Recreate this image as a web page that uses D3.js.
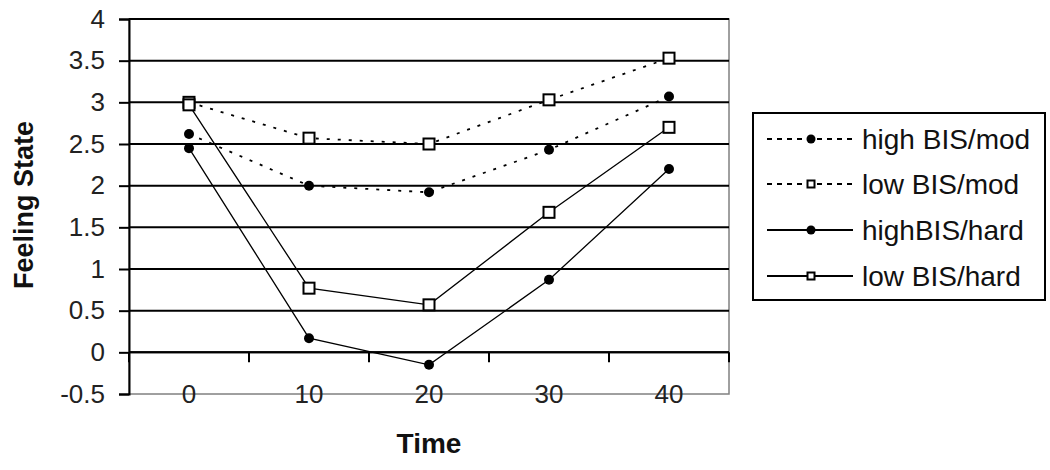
<!DOCTYPE html>
<html>
<head>
<meta charset="utf-8">
<script src="https://cdn.jsdelivr.net/npm/d3@7"></script>
<style>
  html, body { margin: 0; padding: 0; background: #fff; }
  svg { display: block; font-family: Arial, "Liberation Sans", sans-serif; }
</style>
</head>
<body>
<svg id="chart" width="1050" height="470"></svg>
<script>
const categories = [0, 10, 20, 30, 40];
const seriesNames = ["high BIS/mod", "low BIS/mod", "highBIS/hard", "low BIS/hard"];
const highBISmod  = [2.62, 2.00, 1.92, 2.43, 3.07];
const lowBISmod   = [3.00, 2.57, 2.50, 3.03, 3.53];
const highBIShard = [2.45, 0.17, -0.15, 0.87, 2.20];
const lowBIShard  = [2.97, 0.77, 0.57, 1.68, 2.70];
const yTicks = [-0.5, 0, 0.5, 1, 1.5, 2, 2.5, 3, 3.5, 4];

const series = [
  { name: seriesNames[0], values: highBISmod,  dashed: true,  marker: "circle" },
  { name: seriesNames[1], values: lowBISmod,   dashed: true,  marker: "square" },
  { name: seriesNames[2], values: highBIShard, dashed: false, marker: "circle" },
  { name: seriesNames[3], values: lowBIShard,  dashed: false, marker: "square" }
];

const svg = d3.select("#chart");
const L = 129, R = 729, T = 19, B = 394;

const x = d3.scaleBand().domain(categories).range([L, R]);
const y = d3.scaleLinear().domain([-0.5, 4]).range([B, T]);
const cx = d => x(d) + x.bandwidth() / 2;

// plot area border (gray)
svg.append("rect").attr("x", L).attr("y", T).attr("width", R - L).attr("height", B - T)
  .attr("fill", "none").attr("stroke", "#808080").attr("stroke-width", 1.5);

// gridlines
svg.append("g").selectAll("line").data(yTicks.filter(v => v > -0.5)).join("line")
  .attr("x1", L).attr("x2", R).attr("y1", d => y(d)).attr("y2", d => y(d))
  .attr("stroke", "#000").attr("stroke-width", 2);

// y axis
const yAxis = d3.axisLeft(y).tickValues(yTicks).tickSize(10).tickPadding(14)
  .tickFormat(d => String(d));
const gy = svg.append("g").attr("transform", `translate(${L},0)`).call(yAxis);
gy.select(".domain").attr("stroke", "#000").attr("stroke-width", 2);
gy.selectAll(".tick line").attr("stroke", "#000").attr("stroke-width", 2);
gy.selectAll(".tick text").attr("font-size", 26).attr("fill", "#222")
  .attr("font-family", "Arial, 'Liberation Sans', sans-serif");

// x axis line crossing at y = 0 with ticks between categories
const xBoundaries = categories.map(c => x(c)).concat([R]);
svg.append("line").attr("x1", L).attr("x2", R).attr("y1", y(0)).attr("y2", y(0))
  .attr("stroke", "#000").attr("stroke-width", 2);
svg.append("g").selectAll("line").data(xBoundaries).join("line")
  .attr("x1", d => d).attr("x2", d => d).attr("y1", y(0)).attr("y2", y(0) + 10)
  .attr("stroke", "#000").attr("stroke-width", 2);

// x tick labels at the bottom
svg.append("g").selectAll("text").data(categories).join("text")
  .attr("x", d => cx(d)).attr("y", B).attr("dy", "0.36em")
  .attr("text-anchor", "middle").attr("font-size", 26).attr("fill", "#222")
  .text(d => d);

// axis titles
svg.append("text").attr("x", cx(20)).attr("y", 453).attr("text-anchor", "middle")
  .attr("font-size", 28).attr("font-weight", "bold").attr("fill", "#111").text("Time");
svg.append("text").attr("transform", `translate(33,205) rotate(-90)`)
  .attr("text-anchor", "middle").attr("font-size", 27).attr("font-weight", "bold")
  .attr("fill", "#111").text("Feeling State");

// lines
const line = d3.line().x((d, i) => cx(categories[i])).y(d => y(d));
const gS = svg.append("g");
series.forEach(s => {
  gS.append("path").attr("d", line(s.values)).attr("fill", "none")
    .attr("stroke", "#000").attr("stroke-width", s.dashed ? 1.8 : 1.3)
    .attr("stroke-dasharray", s.dashed ? "3,8" : null);
});

function drawMarker(g, type, px, py, size) {
  if (type === "circle") {
    g.append("circle").attr("cx", px).attr("cy", py).attr("r", size / 2).attr("fill", "#000");
  } else {
    g.append("rect").attr("x", px - size / 2).attr("y", py - size / 2)
      .attr("width", size).attr("height", size)
      .attr("fill", "#fff").attr("stroke", "#000").attr("stroke-width", 2);
  }
}
series.forEach(s => {
  s.values.forEach((v, i) => drawMarker(gS, s.marker, cx(categories[i]), y(v), s.marker === "circle" ? 10 : 11));
});

// legend
const lg = svg.append("g");
lg.append("rect").attr("x", 753).attr("y", 113).attr("width", 292).attr("height", 187)
  .attr("fill", "#fff").attr("stroke", "#000").attr("stroke-width", 2);
const rowY = [139, 184, 230, 276];
series.forEach((s, i) => {
  const ly = rowY[i];
  lg.append("line").attr("x1", 767).attr("x2", 853).attr("y1", ly).attr("y2", ly)
    .attr("stroke", "#000").attr("stroke-width", 2)
    .attr("stroke-dasharray", s.dashed ? "5,5" : null);
  drawMarker(lg, s.marker, 811, ly, s.marker === "circle" ? 9 : 7);
  lg.append("text").attr("x", 862).attr("y", ly).attr("dy", "0.36em")
    .attr("font-size", 28).attr("fill", "#111").text(s.name);
});
</script>
</body>
</html>
